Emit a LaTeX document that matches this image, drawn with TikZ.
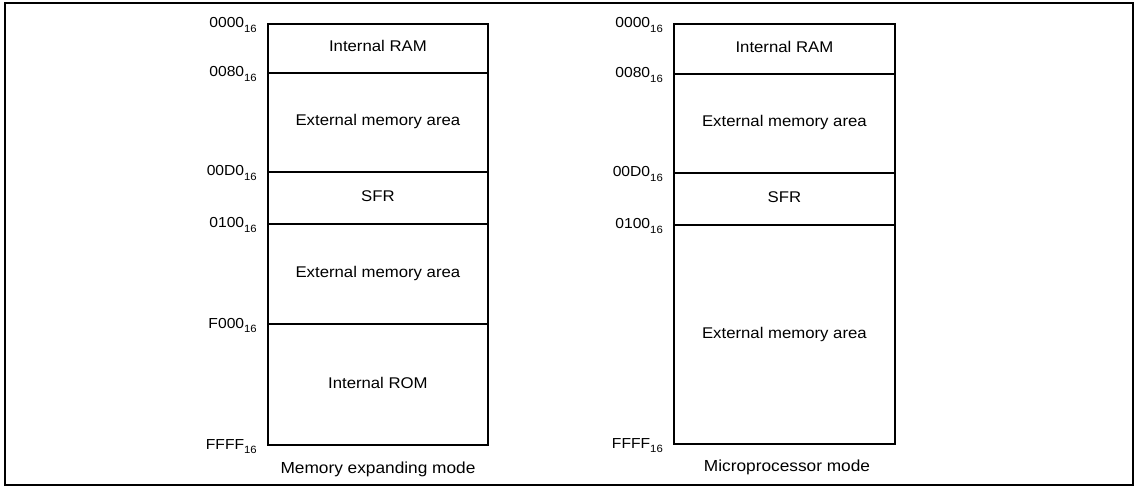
\documentclass[tikz,border=0pt]{standalone}
\usepackage{fontspec}
\setmainfont{Liberation Sans}[FakeStretch=1.08]
\newcommand\hexsub[1]{\raisebox{-0.28em}{\fontsize{10.5}{12}\selectfont #1}}
\begin{document}
\begin{tikzpicture}[x=1pt,y=-1pt,
  region/.style={draw,line width=1.8pt,rectangle,anchor=north west,inner sep=0pt,
    minimum width=#1,font=\fontsize{15.5}{18}\selectfont,text height=0.72em,text depth=0pt},
  addr/.style={anchor=base east,inner sep=0pt,font=\fontsize{14.5}{17}\selectfont},
  caption/.style={inner sep=0pt,font=\fontsize{16}{19}\selectfont,text height=0.72em,text depth=0pt}]
\useasboundingbox (0,0) rectangle (1139,486);
\draw[line width=2.4pt] (5,3) rectangle (1133,485);

% memory expanding mode
\node[region=220pt,minimum height=49pt]  (a1) at (267,23)  {Internal RAM};
\node[region=220pt,minimum height=99pt]  (a2) at (267,72)  {External memory area};
\node[region=220pt,minimum height=52pt]  (a3) at (267,171) {SFR};
\node[region=220pt,minimum height=100pt] (a4) at (267,223) {External memory area};
\node[region=220pt,minimum height=121pt] (a5) at (267,323) {Internal ROM};
\node[addr] (la1) at (257,28)  {0000\hexsub{16}};
\node[addr] (la2) at (257,77)  {0080\hexsub{16}};
\node[addr] (la3) at (257,176) {00D0\hexsub{16}};
\node[addr] (la4) at (257,228) {0100\hexsub{16}};
\node[addr] (la5) at (257,328) {F000\hexsub{16}};
\node[addr] (la6) at (257,449) {FFFF\hexsub{16}};
\node[caption] (ca) at (378,469.5) {Memory expanding mode};

% microprocessor mode
\node[region=221pt,minimum height=50pt]  (b1) at (673,23)  {Internal RAM};
\node[region=221pt,minimum height=99pt]  (b2) at (673,73)  {External memory area};
\node[region=221pt,minimum height=52pt]  (b3) at (673,172) {SFR};
\node[region=221pt,minimum height=219pt] (b4) at (673,224) {External memory area};
\node[addr] (lb1) at (663,28)  {0000\hexsub{16}};
\node[addr] (lb2) at (663,78)  {0080\hexsub{16}};
\node[addr] (lb3) at (663,177) {00D0\hexsub{16}};
\node[addr] (lb4) at (663,229) {0100\hexsub{16}};
\node[addr] (lb5) at (663,448) {FFFF\hexsub{16}};
\node[caption] (cb) at (787,467.5) {Microprocessor mode};
\end{tikzpicture}
\end{document}
